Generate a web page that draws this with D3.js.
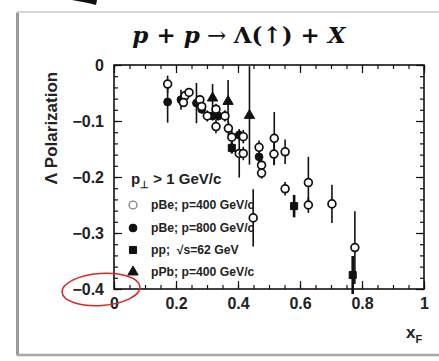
<!DOCTYPE html>
<html>
<head>
<meta charset="utf-8">
<script src="https://cdn.jsdelivr.net/npm/d3@7/dist/d3.min.js"></script>
<style>
  html, body { margin: 0; padding: 0; background: #fff; }
  svg { display: block; }
</style>
</head>
<body>
<svg id="chart" width="439" height="361"></svg>
<script>
// Lambda polarization vs x_F, four data sets

// pBe, p = 400 GeV/c (open circles)
const pBe400X   = [0.173, 0.229, 0.242, 0.224, 0.277, 0.283, 0.301, 0.329, 0.329, 0.358, 0.369, 0.380, 0.417, 0.404, 0.417, 0.468, 0.476, 0.476, 0.517, 0.516, 0.552, 0.552, 0.627, 0.627, 0.703, 0.449, 0.777];
const pBe400Y   = [-0.034, -0.055, -0.049, -0.067, -0.062, -0.074, -0.091, -0.079, -0.110, -0.091, -0.113, -0.129, -0.128, -0.158, -0.158, -0.147, -0.179, -0.193, -0.131, -0.159, -0.155, -0.221, -0.210, -0.250, -0.248, -0.273, -0.326];
const pBe400Err = [0.015, 0.008, 0.008, 0.008, 0.008, 0.008, 0.010, 0.010, 0.012, 0.010, 0.012, 0.012, 0.012, 0.043, 0.012, 0.012, 0.010, 0.010, 0.047, 0.020, 0.022, 0.012, 0.046, 0.014, 0.034, 0.051, 0.065];

// pBe, p = 800 GeV/c (filled circles)
const pBe800X   = [0.173, 0.216, 0.266, 0.283, 0.318, 0.336, 0.404, 0.468];
const pBe800Y   = [-0.066, -0.062, -0.068, -0.079, -0.091, -0.091, -0.125, -0.164];
const pBe800Err = [0.037, 0.018, 0.036, 0.008, 0.008, 0.008, 0.010, 0.022];

// pp, sqrt(s) = 62 GeV (filled squares)
const ppX   = [0.380, 0.581, 0.770];
const ppY   = [-0.148, -0.252, -0.375];
const ppErr = [0.010, 0.020, 0.034];

// pPb, p = 400 GeV/c (filled triangles)
const pPbX   = [0.318, 0.368, 0.437];
const pPbY   = [-0.059, -0.065, -0.090];
const pPbErr = [0.025, 0.038, 0.088];

// axis ticks
const xTickLabels = [0, 0.2, 0.4, 0.6, 0.8, 1];
const yTickLabels = [0, -0.1, -0.2, -0.3, -0.4];

const legendLabels = ["pBe; p=400 GeV/c", "pBe; p=800 GeV/c", "pp;  \u221As=62 GeV", "pPb; p=400 GeV/c"];

const svg = d3.select("#chart");

// slide frame
const frame = svg.append("g");
frame.append("rect").attr("x", 17).attr("y", 12).attr("width", 440).attr("height", 343)
  .attr("fill", "#fff").attr("stroke", "#c8c8c8").attr("stroke-width", 1.5);
frame.append("line").attr("x1", 17.5).attr("x2", 17.5).attr("y1", 13).attr("y2", 355)
  .attr("stroke", "#9a9a9a").attr("stroke-width", 3);
frame.append("line").attr("x1", 17).attr("x2", 439).attr("y1", 355).attr("y2", 355)
  .attr("stroke", "#a8a8a8").attr("stroke-width", 2.5);

// pointer arrow fragment at top
svg.append("path").attr("d", "M72,0 L97,0 L96,5 L88,3 Z").attr("fill", "#111");

// title
const title = svg.append("text").attr("x", 239).attr("y", 43).attr("text-anchor", "middle")
  .attr("font-family", "DejaVu Serif").attr("font-weight", "bold").attr("font-size", 23).attr("fill", "#111");
title.append("tspan").attr("font-style", "italic").text("p");
title.append("tspan").text(" + ");
title.append("tspan").attr("font-style", "italic").text("p");
title.append("tspan").attr("font-weight", "normal").text(" \u2192 ");
title.append("tspan").text("\u039B(\u2191) + ");
title.append("tspan").attr("font-style", "italic").text("X");

const x = d3.scaleLinear().domain([0, 1]).range([114, 424]);
const y = d3.scaleLinear().domain([-0.4, 0]).range([289, 65]);

const axisFont = "Liberation Sans";

// minor and major ticks, all four sides, pointing inward
function ticks(axisGen, sel, values, size) {
  sel.call(axisGen.tickValues(values).tickSize(size).tickFormat(""));
  sel.select(".domain").remove();
  sel.selectAll("line").attr("stroke", "#111").attr("stroke-width", 1.2);
}
const xMinor = d3.range(0, 1.0001, 0.05);
const xMajor = d3.range(0, 1.0001, 0.2);
const yMinor = d3.range(-0.4, 0.0001, 0.02);
const yMajor = d3.range(-0.4, 0.0001, 0.1);

const ax = svg.append("g");
ticks(d3.axisBottom(x), ax.append("g").attr("transform", "translate(0,289)"), xMinor, -4);
ticks(d3.axisBottom(x), ax.append("g").attr("transform", "translate(0,289)"), xMajor, -8);
ticks(d3.axisTop(x), ax.append("g").attr("transform", "translate(0,65)"), xMinor, -4);
ticks(d3.axisTop(x), ax.append("g").attr("transform", "translate(0,65)"), xMajor, -8);
ticks(d3.axisLeft(y), ax.append("g").attr("transform", "translate(114,0)"), yMinor, -4);
ticks(d3.axisLeft(y), ax.append("g").attr("transform", "translate(114,0)"), yMajor, -8);
ticks(d3.axisRight(y), ax.append("g").attr("transform", "translate(424,0)"), yMinor, -4);
ticks(d3.axisRight(y), ax.append("g").attr("transform", "translate(424,0)"), yMajor, -8);

ax.append("rect").attr("x", x(0)).attr("y", y(0)).attr("width", x(1) - x(0)).attr("height", y(-0.4) - y(0))
  .attr("fill", "none").attr("stroke", "#111").attr("stroke-width", 1.6);

// tick labels
const xLab = svg.append("g").attr("transform", "translate(0,289)")
  .call(d3.axisBottom(x).tickValues(xTickLabels).tickSize(0).tickPadding(9).tickFormat(d3.format("")));
xLab.select(".domain").remove();
xLab.selectAll("text").attr("font-family", axisFont).attr("font-weight", "bold").attr("font-size", 16).attr("fill", "#222");

const yLab = svg.append("g").attr("transform", "translate(114,0)")
  .call(d3.axisLeft(y).tickValues(yTickLabels).tickSize(0).tickPadding(10).tickFormat(d3.format("")));
yLab.select(".domain").remove();
yLab.selectAll("text").attr("font-family", axisFont).attr("font-weight", "bold").attr("font-size", 16).attr("fill", "#222");

// axis titles
svg.append("text").attr("transform", "translate(57,128) rotate(-90)").attr("text-anchor", "middle")
  .attr("font-family", axisFont).attr("font-weight", "bold").attr("font-size", 17).attr("fill", "#222")
  .text("\u039B Polarization");
const xt = svg.append("text").attr("x", 406).attr("y", 338)
  .attr("font-family", axisFont).attr("font-weight", "bold").attr("font-size", 17).attr("fill", "#222");
xt.append("tspan").text("x");
xt.append("tspan").attr("font-size", 11).attr("dy", 5).text("F");

// error bars and markers
const plot = svg.append("g");
function errBars(xs, ys, es, w) {
  plot.append("g").selectAll("line").data(xs).join("line")
    .attr("x1", (d) => x(d)).attr("x2", (d) => x(d))
    .attr("y1", (d, i) => y(Math.min(0, ys[i] + es[i])))
    .attr("y2", (d, i) => y(ys[i] - es[i]))
    .attr("stroke", "#111").attr("stroke-width", w);
}
errBars(pBe400X, pBe400Y, pBe400Err, 1.6);
errBars(pBe800X, pBe800Y, pBe800Err, 1.6);
errBars(ppX, ppY, ppErr, 2.6);
errBars(pPbX, pPbY, pPbErr, 1.6);

const sym = {
  circle: d3.symbol().type(d3.symbolCircle).size(48),
  square: d3.symbol().type(d3.symbolSquare).size(50),
  triangle: d3.symbol().type(d3.symbolTriangle).size(46)
};
function markers(xs, ys, gen, open) {
  plot.append("g").selectAll("path").data(xs).join("path")
    .attr("d", gen)
    .attr("transform", (d, i) => `translate(${x(d)},${y(ys[i])})`)
    .attr("fill", open ? "#fff" : "#111")
    .attr("stroke", "#111").attr("stroke-width", open ? 1.7 : 1);
}
markers(pBe800X, pBe800Y, sym.circle, false);
markers(ppX, ppY, sym.square, false);
markers(pPbX, pPbY, sym.triangle, false);
markers(pBe400X, pBe400Y, sym.circle, true);

// legend
const leg = svg.append("g");
const head = leg.append("text").attr("x", 131).attr("y", 184)
  .attr("font-family", axisFont).attr("font-weight", "bold").attr("font-size", 15).attr("fill", "#222");
head.append("tspan").text("p");
head.append("tspan").attr("font-size", 10).attr("dy", 4).text("\u22A5");
head.append("tspan").attr("dy", -4).text(" > 1 GeV/c");

const legendRows = [205, 228, 250, 272];
const legendSyms = [[sym.circle, true], [sym.circle, false], [sym.square, false], [sym.triangle, false]];
legendRows.forEach((ry, i) => {
  leg.append("path").attr("d", legendSyms[i][0]).attr("transform", `translate(133,${ry})`)
    .attr("fill", legendSyms[i][1] ? "#fff" : "#111").attr("stroke", legendSyms[i][1] ? "#888" : "#111")
    .attr("stroke-width", legendSyms[i][1] ? 1.4 : 1);
  leg.append("text").attr("x", 151).attr("y", ry + 4).attr("xml:space", "preserve")
    .attr("font-family", axisFont).attr("font-weight", "bold").attr("font-size", 12.2).attr("fill", "#222")
    .text(legendLabels[i]);
});

// highlight ring around the lowest y label
svg.append("ellipse").attr("cx", 101).attr("cy", 289.5).attr("rx", 39).attr("ry", 16)
  .attr("transform", "rotate(-4,101,289.5)")
  .attr("fill", "none").attr("stroke", "#d42a2a").attr("stroke-width", 1.6);
</script>
</body>
</html>
